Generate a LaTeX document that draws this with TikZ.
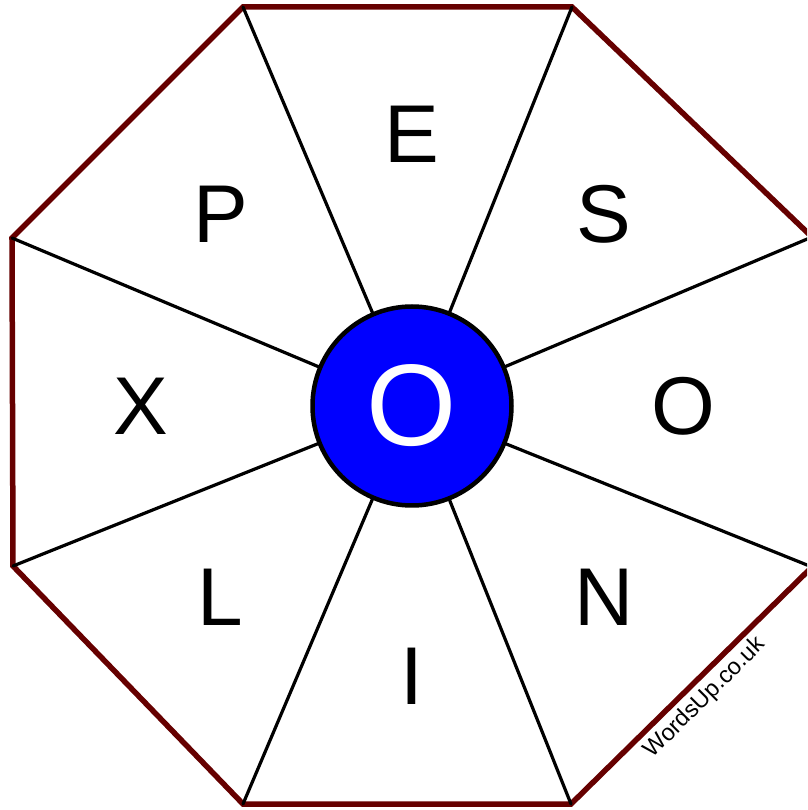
\documentclass[tikz,border=0pt]{standalone}
\usepackage{fontspec}
\setmainfont{Liberation Sans}
\definecolor{rim}{RGB}{102,0,0}
\begin{document}
\begin{tikzpicture}[x=1pt,y=1pt,line join=round,line cap=round,
		letter/.style={font=\fontsize{82}{82}\selectfont},
		spoke/.style={line width=3.2pt}]
	\useasboundingbox (-412,-404) rectangle (395,406);
	\clip (-412,-404) rectangle (395,406);
	% corners of the octagon
	\coordinate (v1) at (-169,399);
	\coordinate (v2) at (160,399);
	\coordinate (v3) at (400,169);
	\coordinate (v4) at (400,-161);
	\coordinate (v5) at (159,-398);
	\coordinate (v6) at (-169,-398);
	\coordinate (v7) at (-399,-160);
	\coordinate (v8) at (-400,168);
	\draw[rim,line width=5.5pt,line cap=butt,line join=miter] (v1) -- (v2) -- (v3) -- (v4) -- (v5) -- (v6) -- (v7) -- (v8) -- cycle;
	\node[circle,draw,line width=4.5pt,fill=blue,inner sep=0pt,minimum size=199pt,
		text=white,font=\fontsize{116}{116}\selectfont] (hub) at (0,0) {O};
	\draw[spoke] (v1) -- (hub);
	\draw[spoke] (v2) -- (hub);
	\draw[spoke] (v3) -- (hub);
	\draw[spoke] (v4) -- (hub);
	\draw[spoke] (v5) -- (hub);
	\draw[spoke] (v6) -- (hub);
	\draw[spoke] (v7) -- (hub);
	\draw[spoke] (v8) -- (hub);
	% letters round the wheel
	\node[letter] (e) at (90:272) {E};
	\node[letter] (s) at (45:271) {S};
	\node[letter] (o) at (0:271) {O};
	\node[letter] (n) at (-45:271) {N};
	\node[letter] (i) at (-90:270) {I};
	\node[letter] (l) at (-135:271) {L};
	\node[letter] (x) at (180:271) {X};
	\node[letter] (p) at (135:271) {P};
	\node[rotate=45,font=\fontsize{23.5}{23.5}\selectfont] (site) at (293,-292) {WordsUp.co.uk};
\end{tikzpicture}
\end{document}
